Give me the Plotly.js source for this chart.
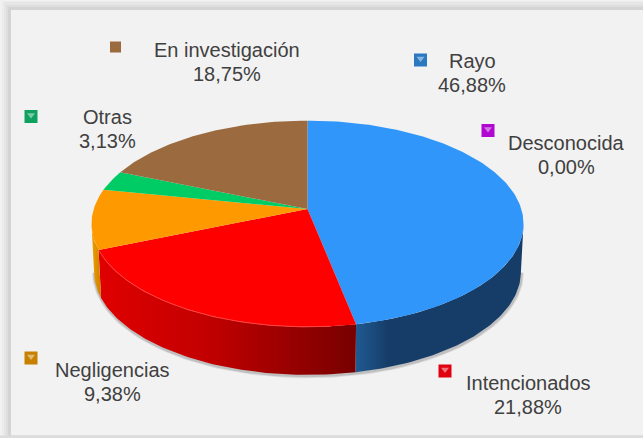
<!DOCTYPE html>
<html><head><meta charset="utf-8">
<script src="https://cdn.plot.ly/plotly-3.0.1.min.js"></script>
<style>html,body{margin:0;padding:0;background:#f2f2f2}</style></head>
<body><div id="chart" style="width:643px;height:438px"></div>
<script>
const categories = ["Rayo","Desconocida","Intencionados","Negligencias","Otras","En investigación"];
const percentages = [46.88,0.00,21.88,9.38,3.13,18.75];
const percentLabels = ["46,88%","0,00%","21,88%","9,38%","3,13%","18,75%"];
const topColors = ["#3096fa","#c000e0","#ff0000","#ff9900","#00cc66","#9b6b3f"];
const wallStops = [
  [[0,"#1f5a92"],[0.2,"#163c68"],[1,"#163c68"]],
  [[0,"#800080"],[1,"#800080"]],
  [[0,"#e00000"],[0.4,"#c40000"],[1,"#780000"]],
  [[0,"#f0a000"],[1,"#cc8000"]],
  [[0,"#00a050"],[1,"#00a050"]],
  [[0,"#7a5530"],[1,"#7a5530"]]
];
const bulletColors = ["#2a78c0","#b008d0","#e00010","#c88000","#10a060","#9b6b3f"];
const bulletXY = [[420.5,60],[488,130.5],[445,371],[31,358],[31,116.5],[115.5,47]];
const labelX = [472.3,566,528.3,112.7,107.3,226.7];
const labelBaseline = [68,150,390,376.5,124,57];

// projective model of the tilted disc
const cx=307.5, cy=209, A=213.8, B=101, P=1/7, DEPTH=48, BOTTOM_SCALE=0.988, LINE_GAP=24;
const total = percentages.reduce((a,b)=>a+b,0);
const EDGE_DEG = 90+Math.asin(P)*180/Math.PI;
function pt(deg, wall){
  const t=deg*Math.PI/180, u=Math.sin(t), v=Math.cos(t), w=1+P*v;
  return wall ? [cx+A*BOTTOM_SCALE*u/w, cy+DEPTH-B*v/w] : [cx+A*u/w, cy-B*v/w];
}
function arc(a,b,wall){
  const pts=[], n=Math.max(2,Math.ceil(Math.abs(b-a)));
  for(let i=0;i<=n;i++) pts.push(pt(a+(b-a)*i/n,wall));
  return pts;
}
const traces=[];
const poly=(pts,extra)=>Object.assign({type:"scatter",mode:"lines",x:pts.map(p=>p[0]),y:pts.map(p=>p[1]),
  fill:"toself",line:{width:0},hoverinfo:"skip",showlegend:false},extra);

let starts=[],acc=0;
percentages.forEach(v=>{starts.push(acc);acc+=v/total*360;});

// soft shadow under the drum
[[5,"rgba(90,90,90,0.14)"],[3,"rgba(90,90,90,0.22)"]].forEach(s=>{
  const sh=arc(EDGE_DEG,360-EDGE_DEG,true).map(p=>[p[0]+0.5,p[1]+1]);
  traces.push({type:"scatter",mode:"lines",x:sh.map(p=>p[0]),y:sh.map(p=>p[1]),
    line:{width:s[0],color:s[1]},hoverinfo:"skip",showlegend:false});
});
// side walls, only the part facing the viewer
percentages.forEach((v,i)=>{
  if(!v) return;
  const a=Math.max(starts[i],EDGE_DEG), b=Math.min(starts[i]+v/total*360,360-EDGE_DEG);
  if(b<=a) return;
  const pts=arc(a,b,false).concat(arc(b,a,true));
  traces.push(poly(pts,{fillgradient:{type:"horizontal",colorscale:wallStops[i]}}));
});
// top faces
percentages.forEach((v,i)=>{
  if(!v) return;
  const a=starts[i], b=a+v/total*360;
  traces.push(poly([[cx,cy]].concat(arc(a,b,false)).concat([[cx,cy]]),{fillcolor:topColors[i]}));
});
// rim light on the red face
const rim=arc(starts[2]+6,starts[3]-1,false);
traces.push({type:"scatter",mode:"lines",x:rim.map(p=>p[0]),y:rim.map(p=>p[1]),
  line:{width:1,color:"#ff4040"},hoverinfo:"skip",showlegend:false});
// bullets
bulletXY.forEach((p,i)=>{
  traces.push({type:"scatter",mode:"markers",x:[p[0]],y:[p[1]],hoverinfo:"skip",showlegend:false,
    marker:{symbol:"square",size:i===5?11:13,color:bulletColors[i],line:{width:0}}});
  if(i!==5) traces.push({type:"scatter",mode:"markers",x:[p[0]],y:[p[1]-1.5],hoverinfo:"skip",showlegend:false,
    marker:{symbol:"triangle-down",size:7,color:"rgba(255,255,255,0.45)",line:{width:0}}});
});
const annotations=[];
categories.forEach((c,i)=>{
  [c,percentLabels[i]].forEach((s,k)=>annotations.push({x:labelX[i],y:labelBaseline[i]-7+k*LINE_GAP,xref:"x",yref:"y",
    text:s,showarrow:false,xanchor:"center",yanchor:"middle",align:"center",
    font:{family:"Liberation Sans",size:20,color:"#404040"}}));
});
const rect=(x0,y0,y1,col)=>({type:"rect",xref:"x",yref:"y",x0,x1:643,y0,y1,layer:"below",line:{width:0},fillcolor:col});
const shapes=[
  rect(0,0,438,"#f2f2f2"),
  rect(2,1,438,"#ececec"),
  rect(4,2,438,"#e6e6e6"),
  rect(6,5,438,"#dedede"),
  rect(8,7,438,"#d4d4d4"),
  rect(11,10,435.5,"#f2f2f2"),
  rect(0,435.5,438,"#dcdcdc")
];
const ax=r=>({range:r,visible:false,fixedrange:true});
Plotly.newPlot("chart",traces,{width:643,height:438,margin:{l:0,r:0,t:0,b:0},
  paper_bgcolor:"#f2f2f2",plot_bgcolor:"#f2f2f2",showlegend:false,
  xaxis:ax([0,643]),yaxis:ax([438,0]),shapes,annotations},{displayModeBar:false,staticPlot:true});
</script></body></html>
